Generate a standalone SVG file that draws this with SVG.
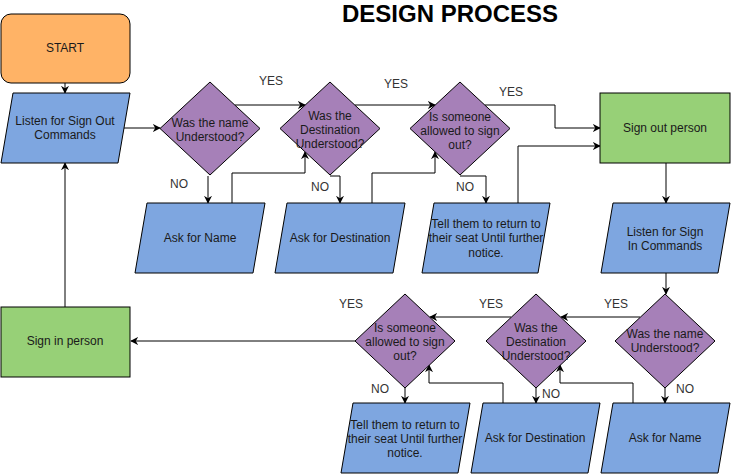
<svg xmlns="http://www.w3.org/2000/svg" width="731" height="474" viewBox="0 0 731 474">
<defs>
<style>
.t{font-family:"Liberation Sans",Arial,sans-serif;font-size:12px;fill:#1a1a1a;text-anchor:middle}
.lbl{font-family:"Liberation Sans",Arial,sans-serif;font-size:12px;fill:#333;text-anchor:middle}
.title{font-family:"Liberation Sans",Arial,sans-serif;font-size:24px;font-weight:bold;fill:#000;text-anchor:middle}
.io{fill:#7EA6E0;stroke:#000;stroke-width:1}
.dec{fill:#A680B8;stroke:#000;stroke-width:1}
.proc{fill:#97D077;stroke:#000;stroke-width:1}
.start{fill:#FFB366;stroke:#000;stroke-width:1}
.c{fill:none;stroke:#000;stroke-width:1;marker-end:url(#arr)}
</style>
<marker id="arr" viewBox="0 0 10 10" refX="9" refY="5" markerWidth="8" markerHeight="8" markerUnits="userSpaceOnUse" orient="auto">
<path d="M0,0 L10,5 L0,10 L3,5 z" fill="#000"/>
</marker>
</defs>
<rect width="731" height="474" fill="#fff"/>
<text class="title" x="450" y="22">DESIGN PROCESS</text>

<g id="connectors">
<path class="c" d="M65,83 V93"/>
<path class="c" d="M124,128 H160"/>
<path class="c" d="M235,105 H305"/>
<path class="c" d="M355,105 H435"/>
<path class="c" d="M485,105 H555 V128 H600"/>
<path class="c" d="M208,176 V203"/>
<path class="c" d="M330,176 H340 V203"/>
<path class="c" d="M460,176 H486 V203"/>
<path class="c" d="M232,203 V173 H305 V152"/>
<path class="c" d="M372,203 V173 H435 V152"/>
<path class="c" d="M518,203 V146 H600"/>
<path class="c" d="M666,163 V203"/>
<path class="c" d="M666,273 V294"/>
<path class="c" d="M640,317 H561"/>
<path class="c" d="M511,317 H430"/>
<path class="c" d="M355,341 H131"/>
<path class="c" d="M665,388 V403"/>
<path class="c" d="M536,388 V403"/>
<path class="c" d="M405,388 V403"/>
<path class="c" d="M633,403 V383 H560 V365"/>
<path class="c" d="M503,403 V383 H429 V365"/>
<path class="c" d="M65,307 V163"/>
<text class="lbl" x="271" y="85">YES</text>
<text class="lbl" x="396" y="88">YES</text>
<text class="lbl" x="511" y="96">YES</text>
<text class="lbl" x="179" y="188">NO</text>
<text class="lbl" x="320" y="191">NO</text>
<text class="lbl" x="465" y="191">NO</text>
<text class="lbl" x="616" y="308">YES</text>
<text class="lbl" x="491" y="308">YES</text>
<text class="lbl" x="351" y="308">YES</text>
<text class="lbl" x="685" y="393">NO</text>
<text class="lbl" x="551" y="398">NO</text>
<text class="lbl" x="380" y="393">NO</text>
</g>

<g id="start">
<rect class="start" x="1" y="14" width="129" height="69" rx="10"/>
<text class="t" x="65" y="52">START</text>
</g>
<g id="listen-out">
<polygon class="io" points="13,93 130,93 118,163 1,163"/>
<text class="t" x="65" y="125">Listen for Sign Out</text>
<text class="t" x="65" y="139">Commands</text>
</g>
<g id="dec-name-1">
<polygon class="dec" points="210,82 260,128.5 210,175 160,128.5"/>
<text class="t" x="210" y="127">Was the name</text>
<text class="t" x="210" y="141">Understood?</text>
</g>
<g id="dec-dest-1">
<polygon class="dec" points="330,82 380,128.5 330,175 280,128.5"/>
<text class="t" x="330" y="120">Was the</text>
<text class="t" x="330" y="134">Destination</text>
<text class="t" x="330" y="148">Understood?</text>
</g>
<g id="dec-allowed-1">
<polygon class="dec" points="460,82 510,128.5 460,175 410,128.5"/>
<text class="t" x="460" y="121">Is someone</text>
<text class="t" x="460" y="135">allowed to sign</text>
<text class="t" x="460" y="149">out?</text>
</g>
<g id="sign-out">
<rect class="proc" x="600" y="93" width="130" height="70"/>
<text class="t" x="665" y="132">Sign out person</text>
</g>
<g id="ask-name-1">
<polygon class="io" points="147,203 265,203 253,273 135,273"/>
<text class="t" x="200" y="242">Ask for Name</text>
</g>
<g id="ask-dest-1">
<polygon class="io" points="287,203 405,203 393,273 275,273"/>
<text class="t" x="340" y="242">Ask for Destination</text>
</g>
<g id="tell-1">
<polygon class="io" points="434,203 550,203 538,273 422,273"/>
<text class="t" x="486" y="228">Tell them to return to</text>
<text class="t" x="486" y="242">their seat Until further</text>
<text class="t" x="486" y="257">notice.</text>
</g>
<g id="listen-in">
<polygon class="io" points="613,203 730,203 718,273 601,273"/>
<text class="t" x="665" y="236">Listen for Sign</text>
<text class="t" x="665" y="250">In Commands</text>
</g>
<g id="dec-name-2">
<polygon class="dec" points="665,294 715,341 665,388 615,341"/>
<text class="t" x="665" y="338">Was the name</text>
<text class="t" x="665" y="352">Understood?</text>
</g>
<g id="dec-dest-2">
<polygon class="dec" points="536,294 586,341 536,388 486,341"/>
<text class="t" x="536" y="332">Was the</text>
<text class="t" x="536" y="346">Destination</text>
<text class="t" x="536" y="360">Understood?</text>
</g>
<g id="dec-allowed-2">
<polygon class="dec" points="405,294 455,341 405,388 355,341"/>
<text class="t" x="405" y="332">Is someone</text>
<text class="t" x="405" y="346">allowed to sign</text>
<text class="t" x="405" y="360">out?</text>
</g>
<g id="sign-in">
<rect class="proc" x="1" y="307" width="129" height="70"/>
<text class="t" x="65" y="345">Sign in person</text>
</g>
<g id="tell-2">
<polygon class="io" points="353,403 470,403 458,473 341,473"/>
<text class="t" x="405" y="429">Tell them to return to</text>
<text class="t" x="405" y="443">their seat Until further</text>
<text class="t" x="405" y="457">notice.</text>
</g>
<g id="ask-dest-2">
<polygon class="io" points="483,403 600,403 588,473 471,473"/>
<text class="t" x="535" y="442">Ask for Destination</text>
</g>
<g id="ask-name-2">
<polygon class="io" points="613,403 730,403 718,473 601,473"/>
<text class="t" x="665" y="442">Ask for Name</text>
</g>
</svg>
